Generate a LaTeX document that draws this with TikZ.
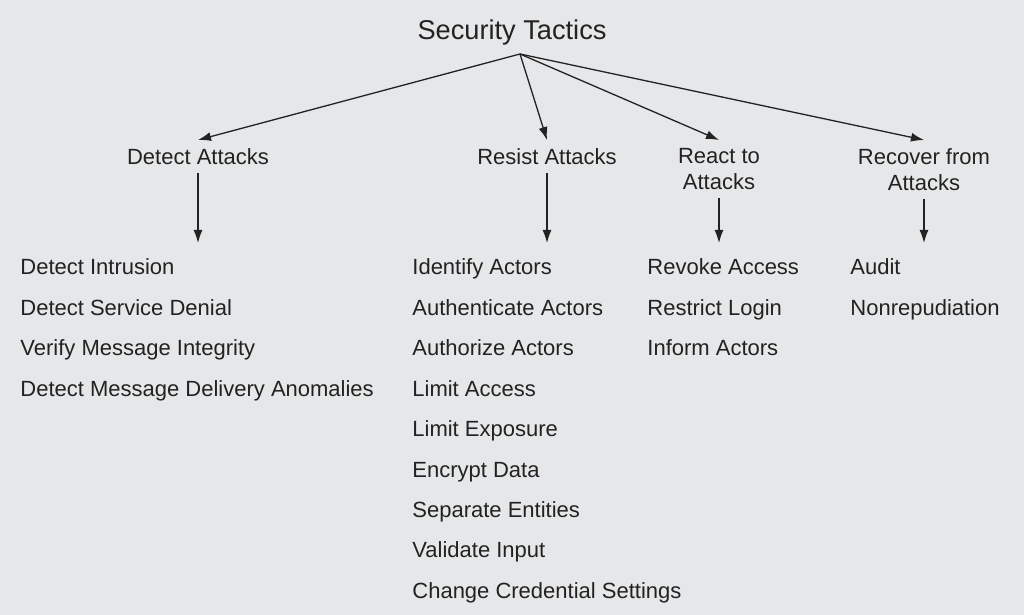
\documentclass[tikz,border=0pt]{standalone}
\usepackage{fontspec}
\setmainfont{Liberation Sans}
\usepackage{tikz}
\usetikzlibrary{arrows.meta,positioning}
\usepackage{xcolor}
\definecolor{paper}{HTML}{E6E7E8}
\definecolor{ink}{HTML}{222222}
\tikzset{
  heading/.style={text=ink,inner sep=0pt,anchor=base,
    font=\fontsize{13.6pt}{16pt}\selectfont},
  tactic/.style={text=ink,inner sep=4pt,anchor=north,align=center,
    font=\fontsize{11pt}{13pt}\selectfont},
  item/.style={text=ink,inner sep=0pt,anchor=base west,
    font=\fontsize{11pt}{13pt}\selectfont},
  arrow/.style={-{Latex[length=6.5pt,width=4.5pt]},draw=ink,line width=0.65pt}
}
\begin{document}
\begin{tikzpicture}[x=0.5pt,y=-0.5pt]
  \fill[paper] (0,0) rectangle (1024,615);
  \useasboundingbox (0,0) rectangle (1024,615);
  \node[heading] (root) at (512,40) {Security Tactics};
  \coordinate (hub) at (520,54);
  \coordinate (listtop) at (0,243);
  % categories
  \node[tactic] (det) at (198,140) {Detect Attacks};
  \node[tactic] (res) at (547,140) {Resist Attacks};
  \node[tactic] (rea) at (719,140) {React to\\Attacks};
  \node[tactic] (rec) at (924,140) {Recover from\\Attacks};
  \foreach \n in {det,res,rea,rec}
    \draw[arrow] (hub) -- (\n.north);
  \foreach \n in {det,res,rea,rec}
    \draw[arrow] (\n.south) -- (\n.south |- listtop);
  % tactic lists
  \foreach \t [count=\i] in {Detect Intrusion,Detect Service Denial,
      Verify Message Integrity,Detect Message Delivery Anomalies}
    \node[item] (det-\i) at (20,{275+(\i-1)*40.4}) {\t};
  \foreach \t [count=\i] in {Identify Actors,Authenticate Actors,
      Authorize Actors,Limit Access,Limit Exposure,Encrypt Data,
      Separate Entities,Validate Input,Change Credential Settings}
    \node[item] (res-\i) at (412,{275+(\i-1)*40.4}) {\t};
  \foreach \t [count=\i] in {Revoke Access,Restrict Login,Inform Actors}
    \node[item] (rea-\i) at (647,{275+(\i-1)*40.4}) {\t};
  \foreach \t [count=\i] in {Audit,Nonrepudiation}
    \node[item] (rec-\i) at (850,{275+(\i-1)*40.4}) {\t};
\end{tikzpicture}
\end{document}
